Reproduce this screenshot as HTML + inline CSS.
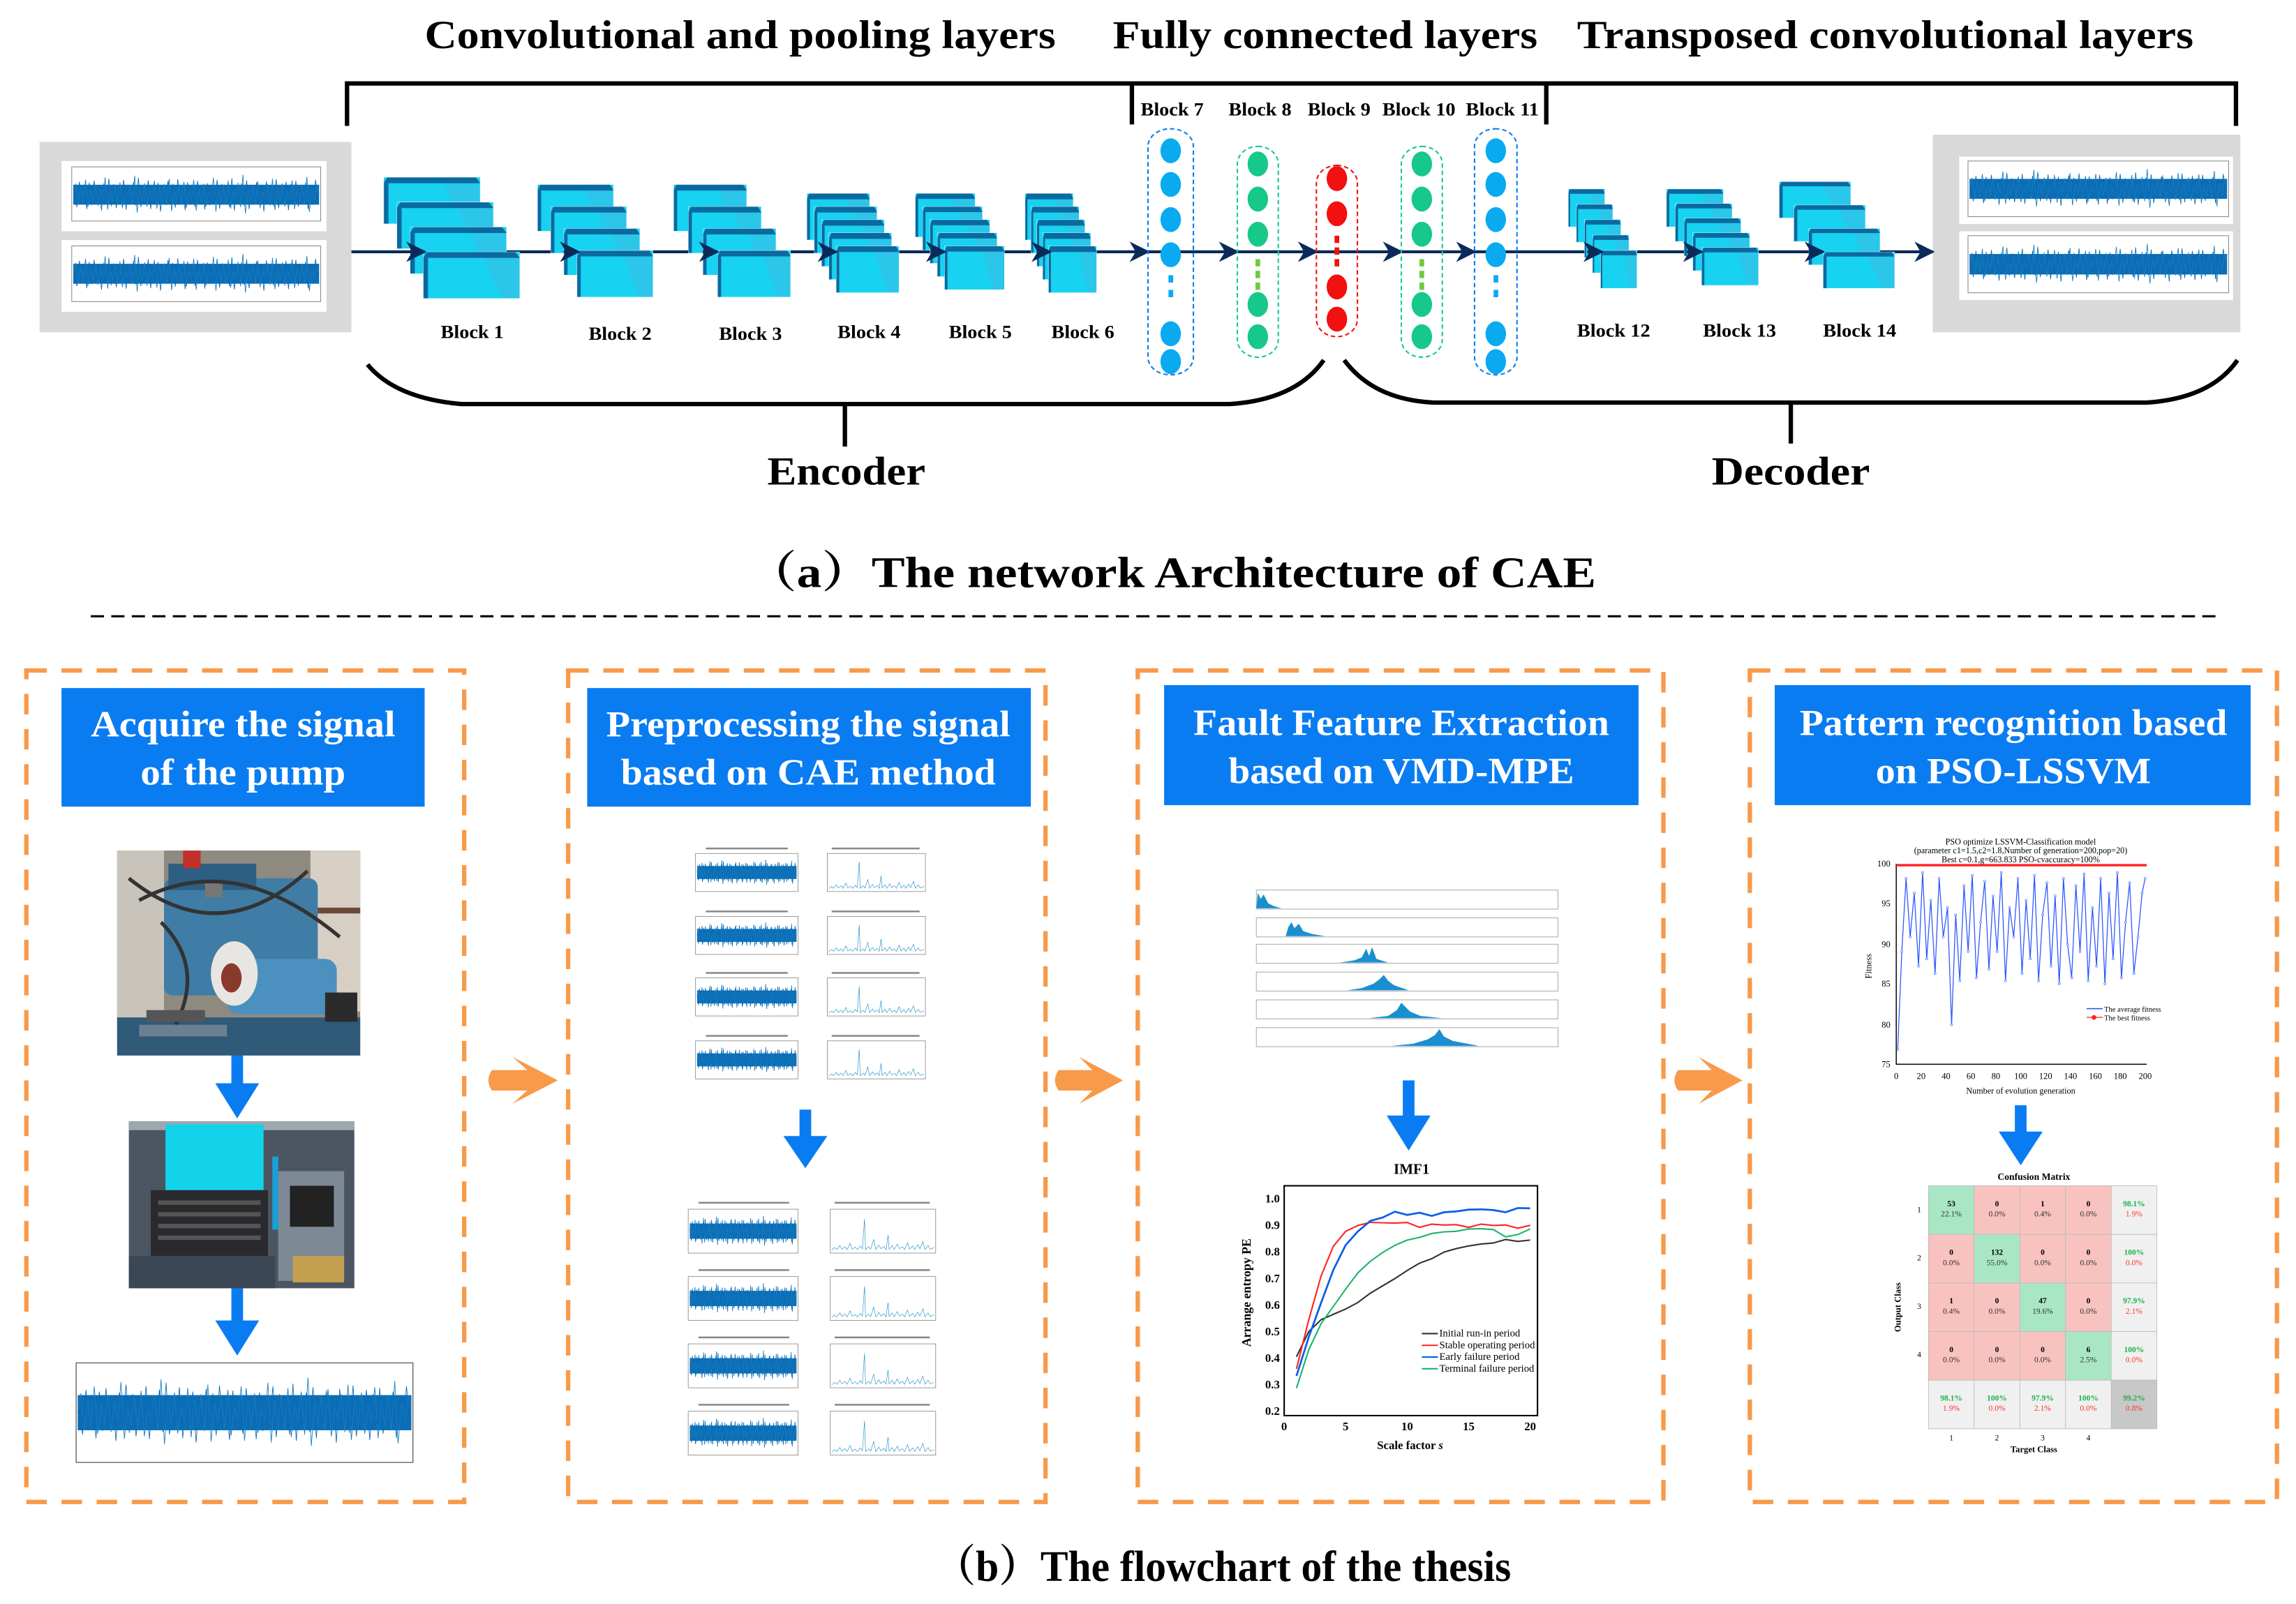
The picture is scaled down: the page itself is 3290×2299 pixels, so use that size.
<!DOCTYPE html>
<html><head><meta charset="utf-8">
<style>
html,body{margin:0;padding:0;background:#fff;}
svg{display:block;}
text{font-family:"Liberation Serif","Noto Serif CJK SC",serif;}
</style></head>
<body>
<svg xmlns="http://www.w3.org/2000/svg" xmlns:xlink="http://www.w3.org/1999/xlink" width="3290" height="2299" viewBox="0 0 1568 1095.7" preserveAspectRatio="none">
<defs>
<marker id="ah" viewBox="0 0 10 10" refX="9" refY="5" markerWidth="7" markerHeight="7" orient="auto"><path d="M0,0 L10,5 L0,10 L3,5 Z" fill="#0b2a5a"/></marker>
<marker id="dot" viewBox="0 0 10 10" refX="5" refY="5" markerWidth="2" markerHeight="2" markerUnits="userSpaceOnUse"><circle cx="5" cy="5" r="3.5" fill="#fff" stroke="#2a55ff" stroke-width="1.5"/></marker>
<symbol id="nz" viewBox="0 0 200 100" preserveAspectRatio="none">
<rect x="0" y="30" width="200" height="40" fill="#0b6db5"/>
<polyline vector-effect="non-scaling-stroke" stroke-width="0.9" fill="none" stroke="#1a7fc4" points="0,50 2,28 4,70 6,35 8,66 10,20 12,74 14,40 16,62 18,30 20,72 22,38 24,60 26,15 28,80 30,42 32,64 34,33 36,69 38,25 40,77 42,45 44,57 46,30 48,70 50,12 52,86 54,38 56,63 58,27 60,74 62,41 64,60 66,22 68,78 70,35 72,66 74,29 76,71 78,18 80,83 82,40 84,61 86,31 88,68 90,24 92,76 94,43 96,58 98,20 100,82 102,37 104,64 106,28 108,73 110,44 112,59 114,16 116,84 118,36 120,67 122,30 124,70 126,22 128,78 130,41 132,62 134,26 136,75 138,10 140,88 142,39 144,63 146,32 148,69 150,23 152,77 154,44 156,58 158,29 160,72 162,18 164,81 166,36 168,65 170,27 172,74 174,42 176,60 178,21 180,79 182,38 184,64 186,31 188,70 190,14 192,85 194,40 196,62 198,30 200,50"/>
<polyline vector-effect="non-scaling-stroke" stroke-width="0.9" fill="none" stroke="#0b6db5" points="1,45 3,75 5,24 7,68 9,30 11,79 13,26 15,71 17,22 19,66 21,33 23,82 25,27 27,64 29,18 31,73 33,29 35,77 37,35 39,62 41,20 43,80 45,31 47,69 49,24 51,72 53,16 55,75 57,34 59,65 61,21 63,79 65,30 67,68 69,26 71,84 73,32 75,63 77,23 79,70 81,28 83,76 85,19 87,67 89,35 91,81 93,25 95,70 97,33 99,74 101,22 103,66 105,30 107,80 109,27 111,71 113,36 115,64 117,20 119,78 121,29 123,69 125,33 127,75 129,17 131,82 133,31 135,66 137,27 139,72 141,21 143,79 145,34 147,63 149,25 151,70 153,30 155,84 157,23 159,67 161,32 163,73 165,19 167,77 169,35 171,64 173,24 175,81 177,29 179,68 181,22 183,74 185,33 187,66 189,26 191,79 193,31 195,70 197,20 199,60"/>
</symbol>
<symbol id="sp" viewBox="0 0 100 100" preserveAspectRatio="none">
<polyline vector-effect="non-scaling-stroke" stroke-width="0.6" fill="none" stroke="#1287c4" points="0,96 3,90 5,95 8,85 10,94 13,88 15,95 18,80 20,94 23,89 25,95 28,86 30,93 32,20 33,95 36,88 38,94 41,70 43,95 46,84 48,93 51,87 53,95 55,60 56,94 59,85 61,95 64,82 66,93 69,88 71,95 74,78 76,94 79,86 81,95 84,83 86,93 89,75 91,95 94,85 96,94 100,90"/>
</symbol>
<symbol id="ly" viewBox="0 0 100 100" preserveAspectRatio="none">
<rect x="0" y="0" width="100" height="100" fill="#17d2f0"/>
<path d="M62,12 L82,100 H100 V12Z" fill="#2bc6ea"/>
<path d="M0,13 L4,0 H95 L100,13Z" fill="#0a6aa0"/>
<rect x="0" y="13" width="5" height="87" fill="#0a6aa0"/>
<rect x="0" y="0" width="100" height="100" fill="none" stroke="#fff" stroke-width="0.8" vector-effect="non-scaling-stroke"/>
</symbol>
</defs>
<rect width="1568" height="1096" fill="#fff"/>

<g font-weight="bold" font-size="27" fill="#000">
<text x="290" y="33" textLength="431" lengthAdjust="spacingAndGlyphs">Convolutional and pooling layers</text>
<text x="760" y="33" textLength="290" lengthAdjust="spacingAndGlyphs">Fully connected layers</text>
<text x="1077" y="33" textLength="421" lengthAdjust="spacingAndGlyphs">Transposed convolutional layers</text>
</g>
<g stroke="#000" stroke-width="3" fill="none">
<path d="M237,86 V57 H1527 V86"/>
<path d="M773,57 V85 M1056,57 V85"/>
</g>
<g font-weight="bold" font-size="12.5" fill="#000">
<text x="779" y="79" textLength="43" lengthAdjust="spacingAndGlyphs">Block 7</text>
<text x="839" y="79" textLength="43" lengthAdjust="spacingAndGlyphs">Block 8</text>
<text x="893" y="79" textLength="43" lengthAdjust="spacingAndGlyphs">Block 9</text>
<text x="944" y="79" textLength="50" lengthAdjust="spacingAndGlyphs">Block 10</text>
<text x="1001" y="79" textLength="50" lengthAdjust="spacingAndGlyphs">Block 11</text>
</g>

<rect x="27" y="97" width="213" height="130" fill="#d9d9d9"/>
<rect x="42" y="110" width="181" height="48" fill="#fff"/>
<rect x="42" y="164" width="181" height="49" fill="#fff"/>
<rect x="1320" y="92" width="210" height="135" fill="#d9d9d9"/>
<rect x="1338" y="107" width="187" height="46" fill="#fff"/>
<rect x="1338" y="158" width="187" height="47" fill="#fff"/>
<g fill="none" stroke="#888" stroke-width="0.5">
<rect x="49" y="114" width="170" height="37"/><rect x="49" y="168" width="170" height="38"/>
<rect x="1344" y="110" width="178" height="38"/><rect x="1344" y="161" width="178" height="39"/>
</g>
<use href="#nz" xlink:href="#nz" x="50" y="116" width="168" height="34"/>
<use href="#nz" xlink:href="#nz" x="50" y="170" width="168" height="34"/>
<use href="#nz" xlink:href="#nz" x="1345" y="112" width="176" height="34"/>
<use href="#nz" xlink:href="#nz" x="1345" y="163" width="176" height="35"/>

<line x1="240" y1="172" x2="1318" y2="172" stroke="#0b2a5a" stroke-width="2"/>

<g>
<use href="#ly" xlink:href="#ly" x="262" y="121" width="66" height="32"/><use href="#ly" xlink:href="#ly" x="271" y="138" width="66" height="32"/><use href="#ly" xlink:href="#ly" x="280" y="155" width="66" height="32"/><use href="#ly" xlink:href="#ly" x="289" y="172" width="66" height="32"/>
<use href="#ly" xlink:href="#ly" x="367" y="126" width="52" height="32"/><use href="#ly" xlink:href="#ly" x="376" y="141" width="52" height="32"/><use href="#ly" xlink:href="#ly" x="385" y="156" width="52" height="32"/><use href="#ly" xlink:href="#ly" x="394" y="171" width="52" height="32"/>
<use href="#ly" xlink:href="#ly" x="460" y="126" width="50" height="32"/><use href="#ly" xlink:href="#ly" x="470" y="141" width="50" height="32"/><use href="#ly" xlink:href="#ly" x="480" y="156" width="50" height="32"/><use href="#ly" xlink:href="#ly" x="490" y="171" width="50" height="32"/>
<use href="#ly" xlink:href="#ly" x="551" y="132" width="43" height="32"/><use href="#ly" xlink:href="#ly" x="556" y="141" width="43" height="32"/><use href="#ly" xlink:href="#ly" x="561" y="150" width="43" height="32"/><use href="#ly" xlink:href="#ly" x="566" y="159" width="43" height="32"/><use href="#ly" xlink:href="#ly" x="571" y="168" width="43" height="32"/>
<use href="#ly" xlink:href="#ly" x="625" y="132" width="41" height="30"/><use href="#ly" xlink:href="#ly" x="630" y="141" width="41" height="30"/><use href="#ly" xlink:href="#ly" x="635" y="150" width="41" height="30"/><use href="#ly" xlink:href="#ly" x="640" y="159" width="41" height="30"/><use href="#ly" xlink:href="#ly" x="645" y="168" width="41" height="30"/>
<use href="#ly" xlink:href="#ly" x="700" y="132" width="33" height="32"/><use href="#ly" xlink:href="#ly" x="704" y="141" width="33" height="32"/><use href="#ly" xlink:href="#ly" x="708" y="150" width="33" height="32"/><use href="#ly" xlink:href="#ly" x="712" y="159" width="33" height="32"/><use href="#ly" xlink:href="#ly" x="716" y="168" width="33" height="32"/>
<use href="#ly" xlink:href="#ly" x="1071" y="129" width="25" height="26"/><use href="#ly" xlink:href="#ly" x="1076.5" y="139.5" width="25" height="26"/><use href="#ly" xlink:href="#ly" x="1082" y="150" width="25" height="26"/><use href="#ly" xlink:href="#ly" x="1087.5" y="160.5" width="25" height="26"/><use href="#ly" xlink:href="#ly" x="1093" y="171" width="25" height="26"/>
<use href="#ly" xlink:href="#ly" x="1138" y="129" width="39" height="26"/><use href="#ly" xlink:href="#ly" x="1144" y="139" width="39" height="26"/><use href="#ly" xlink:href="#ly" x="1150" y="149" width="39" height="26"/><use href="#ly" xlink:href="#ly" x="1156" y="159" width="39" height="26"/><use href="#ly" xlink:href="#ly" x="1162" y="169" width="39" height="26"/>
<use href="#ly" xlink:href="#ly" x="1215" y="124" width="49" height="25"/><use href="#ly" xlink:href="#ly" x="1225" y="140" width="49" height="25"/><use href="#ly" xlink:href="#ly" x="1235" y="156" width="49" height="25"/><use href="#ly" xlink:href="#ly" x="1245" y="172" width="49" height="25"/>
</g>

<g stroke="#0b2a5a" stroke-width="2" fill="none" marker-end="url(#ah)">
<line x1="280" y1="172" x2="290" y2="172"/>
<line x1="385" y1="172" x2="395" y2="172"/>
<line x1="480" y1="172" x2="490" y2="172"/>
<line x1="562" y1="172" x2="571" y2="172"/>
<line x1="636" y1="172" x2="645" y2="172"/>
<line x1="708" y1="172" x2="717" y2="172"/>
<line x1="775" y1="172" x2="784" y2="172"/>
<line x1="835" y1="172" x2="845" y2="172"/>
<line x1="889" y1="172" x2="899" y2="172"/>
<line x1="947" y1="172" x2="957" y2="172"/>
<line x1="997" y1="172" x2="1007" y2="172"/>
<line x1="1084" y1="172" x2="1094" y2="172"/>
<line x1="1152" y1="172" x2="1162" y2="172"/>
<line x1="1235" y1="172" x2="1245" y2="172"/>
<line x1="1310" y1="172" x2="1320" y2="172"/>
</g>

<g fill="none" stroke-width="1" stroke-dasharray="3,2">
<rect x="784" y="88" width="31" height="168" rx="15" ry="12" stroke="#0a7cf2"/>
<rect x="845" y="100" width="28" height="144" rx="14" ry="12" stroke="#16c8a0"/>
<rect x="899" y="113" width="28" height="117" rx="14" ry="12" stroke="#f21010"/>
<rect x="957" y="100" width="28" height="144" rx="14" ry="12" stroke="#16c8a0"/>
<rect x="1007" y="88" width="29" height="168" rx="14" ry="12" stroke="#0a7cf2"/>
</g>
<g fill="#09aaf0">
<ellipse cx="799.5" cy="103" rx="7" ry="8.5"/><ellipse cx="799.5" cy="126" rx="7" ry="8.5"/><ellipse cx="799.5" cy="150" rx="7" ry="8.5"/><ellipse cx="799.5" cy="174" rx="7" ry="8.5"/><ellipse cx="799.5" cy="228" rx="7" ry="8.5"/><ellipse cx="799.5" cy="247" rx="7" ry="8.5"/>
<rect x="798" y="188" width="3.2" height="5"/><rect x="798" y="198" width="3.2" height="5"/>
<ellipse cx="1021.5" cy="103" rx="7" ry="8.5"/><ellipse cx="1021.5" cy="126" rx="7" ry="8.5"/><ellipse cx="1021.5" cy="150" rx="7" ry="8.5"/><ellipse cx="1021.5" cy="174" rx="7" ry="8.5"/><ellipse cx="1021.5" cy="228" rx="7" ry="8.5"/><ellipse cx="1021.5" cy="247" rx="7" ry="8.5"/>
<rect x="1020" y="188" width="3.2" height="5"/><rect x="1020" y="198" width="3.2" height="5"/>
</g>
<g fill="#16c88a">
<ellipse cx="859" cy="112" rx="7" ry="8.5"/><ellipse cx="859" cy="136" rx="7" ry="8.5"/><ellipse cx="859" cy="160" rx="7" ry="8.5"/><ellipse cx="859" cy="208" rx="7" ry="8.5"/><ellipse cx="859" cy="230" rx="7" ry="8.5"/>
<ellipse cx="971" cy="112" rx="7" ry="8.5"/><ellipse cx="971" cy="136" rx="7" ry="8.5"/><ellipse cx="971" cy="160" rx="7" ry="8.5"/><ellipse cx="971" cy="208" rx="7" ry="8.5"/><ellipse cx="971" cy="230" rx="7" ry="8.5"/>
</g>
<g fill="#6ccc3c"><rect x="857.4" y="177" width="3.2" height="5"/><rect x="857.4" y="185" width="3.2" height="5"/><rect x="857.4" y="193" width="3.2" height="5"/>
<rect x="969.4" y="177" width="3.2" height="5"/><rect x="969.4" y="185" width="3.2" height="5"/><rect x="969.4" y="193" width="3.2" height="5"/></g>
<g fill="#f21010">
<ellipse cx="913" cy="122" rx="7" ry="8.5"/><ellipse cx="913" cy="146" rx="7" ry="8.5"/><ellipse cx="913" cy="196" rx="7" ry="8.5"/><ellipse cx="913" cy="218" rx="7" ry="8.5"/>
<rect x="911.4" y="161" width="3.2" height="5"/><rect x="911.4" y="169" width="3.2" height="5"/><rect x="911.4" y="177" width="3.2" height="5"/>
</g>

<g font-weight="bold" font-size="12.5" fill="#000">
<text x="301" y="231" textLength="43" lengthAdjust="spacingAndGlyphs">Block 1</text>
<text x="402" y="232" textLength="43" lengthAdjust="spacingAndGlyphs">Block 2</text>
<text x="491" y="232" textLength="43" lengthAdjust="spacingAndGlyphs">Block 3</text>
<text x="572" y="231" textLength="43" lengthAdjust="spacingAndGlyphs">Block 4</text>
<text x="648" y="231" textLength="43" lengthAdjust="spacingAndGlyphs">Block 5</text>
<text x="718" y="231" textLength="43" lengthAdjust="spacingAndGlyphs">Block 6</text>
<text x="1077" y="230" textLength="50" lengthAdjust="spacingAndGlyphs">Block 12</text>
<text x="1163" y="230" textLength="50" lengthAdjust="spacingAndGlyphs">Block 13</text>
<text x="1245" y="230" textLength="50" lengthAdjust="spacingAndGlyphs">Block 14</text>
</g>

<g stroke="#000" stroke-width="3" fill="none">
<path d="M251,249 Q270,272 315,276 H840 Q885,273 904,246"/>
<path d="M577,276 V305"/>
<path d="M918,246 Q938,273 979,275 H1466 Q1510,272 1528,246"/>
<path d="M1223,275 V303"/>
</g>
<g font-weight="bold" font-size="27" fill="#000" text-anchor="middle">
<text x="578" y="331" textLength="108" lengthAdjust="spacingAndGlyphs">Encoder</text>
<text x="1223" y="331" textLength="108" lengthAdjust="spacingAndGlyphs">Decoder</text>
</g>
<text x="510" y="401" font-weight="bold" font-size="30" textLength="580" lengthAdjust="spacingAndGlyphs">（a）The network Architecture of CAE</text>
<line x1="62" y1="421" x2="1518" y2="421" stroke="#000" stroke-width="1.5" stroke-dasharray="9,5"/>

<g stroke="#f89a4a" stroke-width="3" fill="none" stroke-dasharray="14,10">
<rect x="18" y="458" width="299" height="568"/>
<rect x="388" y="458" width="326" height="568"/>
<rect x="777" y="458" width="359" height="568"/>
<rect x="1195" y="458" width="360" height="568"/>
</g>
<g fill="#0a7cf2">
<rect x="42" y="470" width="248" height="81"/>
<rect x="401" y="470" width="303" height="81"/>
<rect x="795" y="468" width="324" height="82"/>
<rect x="1212" y="468" width="325" height="82"/>
</g>
<g font-weight="bold" font-size="25" fill="#fff" text-anchor="middle">
<text x="166" y="503" textLength="208" lengthAdjust="spacingAndGlyphs">Acquire the signal</text>
<text x="166" y="536" textLength="140" lengthAdjust="spacingAndGlyphs">of the pump</text>
<text x="552" y="503" textLength="276" lengthAdjust="spacingAndGlyphs">Preprocessing the signal</text>
<text x="552" y="536" textLength="256" lengthAdjust="spacingAndGlyphs">based on CAE method</text>
<text x="957" y="502" textLength="284" lengthAdjust="spacingAndGlyphs">Fault Feature Extraction</text>
<text x="957" y="535" textLength="236" lengthAdjust="spacingAndGlyphs">based on VMD-MPE</text>
<text x="1375" y="502" textLength="292" lengthAdjust="spacingAndGlyphs">Pattern recognition based</text>
<text x="1375" y="535" textLength="188" lengthAdjust="spacingAndGlyphs">on PSO-LSSVM</text>
</g>

<g fill="#f89a4a">
<path d="M336,731 H360 L350,722 L381,738 L350,754 L360,745 H336 Q331,738 336,731Z"/>
<path d="M723,731 H746 L737,722 L767,738 L737,754 L746,745 H723 Q718,738 723,731Z"/>
<path d="M1146,731 H1169 L1160,722 L1190,738 L1160,754 L1169,745 H1146 Q1141,738 1146,731Z"/>
</g>
<g fill="#0a7cf2">
<path d="M158,716 h8 v24 h11 l-15,24 l-15,-24 h11z"/>
<path d="M158,878 h8 v24 h11 l-15,24 l-15,-24 h11z"/>
<path d="M546,758 h8 v18 h11 l-15,22 l-15,-22 h11z"/>
<path d="M958,738 h8 v24 h11 l-15,24 l-15,-24 h11z"/>
<path d="M1376,755 h8 v18 h11 l-15,23 l-15,-23 h11z"/>
</g>

<g>
<rect x="80" y="581" width="166" height="140" fill="#8f8a80"/>
<rect x="80" y="581" width="32" height="130" fill="#c9c4bb"/>
<rect x="212" y="581" width="34" height="110" fill="#d8cfc4"/>
<rect x="205" y="620" width="41" height="4" fill="#6b4a3a"/>
<rect x="112" y="600" width="105" height="80" rx="6" fill="#3f7ca6"/>
<rect x="115" y="590" width="60" height="18" fill="#2d5f82"/>
<rect x="125" y="581" width="12" height="12" fill="#c2302a"/>
<rect x="140" y="603" width="12" height="10" fill="#777"/>
<rect x="155" y="655" width="75" height="38" rx="8" fill="#4b90bf"/>
<ellipse cx="160" cy="665" rx="16" ry="22" fill="#e8e6e2"/>
<ellipse cx="158" cy="668" rx="7" ry="10" fill="#8a3a2a"/>
<rect x="80" y="695" width="166" height="26" fill="#2f5a78"/>
<path d="M88,600 Q150,650 210,595 M95,615 Q160,580 232,640 M110,630 Q140,660 120,700" stroke="#333" stroke-width="2.5" fill="none"/>
<rect x="222" y="678" width="22" height="20" fill="#2b2b2b"/>
<rect x="95" y="700" width="60" height="8" fill="#6a7f90"/>
<rect x="100" y="690" width="40" height="8" fill="#555"/>
</g>
<g>
<rect x="88" y="766" width="154" height="114" fill="#4b5662"/>
<rect x="88" y="766" width="154" height="6" fill="#9ea7ae"/>
<rect x="113" y="768" width="67" height="45" fill="#13d3ea"/>
<rect x="103" y="813" width="80" height="45" fill="#2a2a2e"/>
<g fill="#555"><rect x="108" y="820" width="70" height="3"/><rect x="108" y="828" width="70" height="3"/><rect x="108" y="836" width="70" height="3"/><rect x="108" y="844" width="70" height="3"/></g>
<rect x="190" y="800" width="45" height="75" fill="#7d8a95"/>
<rect x="198" y="810" width="30" height="28" fill="#222"/>
<rect x="200" y="858" width="35" height="18" fill="#c5a050"/>
<rect x="88" y="858" width="100" height="22" fill="#3b4754"/>
<rect x="186" y="790" width="4" height="50" fill="#1aa0d8"/>
</g>
<rect x="52" y="931" width="230" height="68" fill="#fff" stroke="#555" stroke-width="0.6"/>
<use href="#nz" xlink:href="#nz" x="53" y="935" width="228" height="60"/>

<g fill="none" stroke="#888" stroke-width="0.4">
<rect x="475" y="583" width="70" height="26"/><rect x="565" y="583" width="67" height="26"/>
<rect x="475" y="626" width="70" height="26"/><rect x="565" y="626" width="67" height="26"/>
<rect x="475" y="668" width="70" height="26"/><rect x="565" y="668" width="67" height="26"/>
<rect x="475" y="711" width="70" height="26"/><rect x="565" y="711" width="67" height="26"/>
<rect x="470" y="826" width="75" height="30"/><rect x="567" y="826" width="72" height="30"/>
<rect x="470" y="872" width="75" height="30"/><rect x="567" y="872" width="72" height="30"/>
<rect x="470" y="918" width="75" height="30"/><rect x="567" y="918" width="72" height="30"/>
<rect x="470" y="964" width="75" height="30"/><rect x="567" y="964" width="72" height="30"/>
</g>
<use href="#nz" xlink:href="#nz" x="476" y="585" width="68" height="22"/>
<use href="#nz" xlink:href="#nz" x="476" y="628" width="68" height="22"/>
<use href="#nz" xlink:href="#nz" x="476" y="670" width="68" height="22"/>
<use href="#nz" xlink:href="#nz" x="476" y="713" width="68" height="22"/>
<use href="#nz" xlink:href="#nz" x="471" y="828" width="73" height="26"/>
<use href="#nz" xlink:href="#nz" x="471" y="874" width="73" height="26"/>
<use href="#nz" xlink:href="#nz" x="471" y="920" width="73" height="26"/>
<use href="#nz" xlink:href="#nz" x="471" y="966" width="73" height="26"/>
<use href="#sp" xlink:href="#sp" x="566" y="584" width="65" height="24"/>
<use href="#sp" xlink:href="#sp" x="566" y="627" width="65" height="24"/>
<use href="#sp" xlink:href="#sp" x="566" y="669" width="65" height="24"/>
<use href="#sp" xlink:href="#sp" x="566" y="712" width="65" height="24"/>
<use href="#sp" xlink:href="#sp" x="568" y="827" width="70" height="28"/>
<use href="#sp" xlink:href="#sp" x="568" y="873" width="70" height="28"/>
<use href="#sp" xlink:href="#sp" x="568" y="919" width="70" height="28"/>
<use href="#sp" xlink:href="#sp" x="568" y="965" width="70" height="28"/>
<g fill="#888">
<rect x="482" y="579" width="56" height="1.2"/><rect x="568" y="579" width="60" height="1.2"/>
<rect x="482" y="622" width="56" height="1.2"/><rect x="568" y="622" width="60" height="1.2"/>
<rect x="482" y="664" width="56" height="1.2"/><rect x="568" y="664" width="60" height="1.2"/>
<rect x="482" y="707" width="56" height="1.2"/><rect x="568" y="707" width="60" height="1.2"/>
<rect x="477" y="821" width="62" height="1.2"/><rect x="570" y="821" width="65" height="1.2"/>
<rect x="477" y="867" width="62" height="1.2"/><rect x="570" y="867" width="65" height="1.2"/>
<rect x="477" y="913" width="62" height="1.2"/><rect x="570" y="913" width="65" height="1.2"/>
<rect x="477" y="959" width="62" height="1.2"/><rect x="570" y="959" width="65" height="1.2"/>
</g>

<g fill="none" stroke="#aaa" stroke-width="0.5">
<rect x="858" y="608" width="206" height="13"/><rect x="858" y="627" width="206" height="13"/><rect x="858" y="645" width="206" height="13"/>
<rect x="858" y="664" width="206" height="13"/><rect x="858" y="683" width="206" height="13"/><rect x="858" y="702" width="206" height="13"/>
</g>
<g fill="#1a8fd0">
<path d="M858,620.5 L859,610 L861,614 L863,611 L866,617 L870,619 L875,620.5Z"/>
<path d="M878,639.5 L880,633 L882,630 L884,634 L887,631 L890,636 L896,638 L905,639.5Z"/>
<path d="M915,657.5 L925,656 L930,654 L933,648 L935,653 L937,647 L940,655 L948,657.5Z"/>
<path d="M920,676.5 L930,675 L938,672 L942,669 L945,666 L948,670 L952,673 L962,676.5Z"/>
<path d="M935,695.5 L948,694 L954,690 L957,685 L960,688 L963,691 L970,694 L985,695.5Z"/>
<path d="M950,714.5 L965,713 L975,710 L980,707 L983,703 L986,708 L992,711 L1010,714.5Z"/>
</g>

<text x="964" y="802" font-weight="bold" font-size="10" text-anchor="middle">IMF1</text>
<rect x="877" y="810" width="173" height="157" fill="none" stroke="#000" stroke-width="1"/>
<g font-size="8" font-weight="bold" text-anchor="end">
<text x="874" y="966.5">0.2</text><text x="874" y="948.4">0.3</text><text x="874" y="930.3">0.4</text><text x="874" y="912.1">0.5</text><text x="874" y="894">0.6</text><text x="874" y="875.9">0.7</text><text x="874" y="857.7">0.8</text><text x="874" y="839.6">0.9</text><text x="874" y="821.5">1.0</text>
</g>
<g font-size="8" font-weight="bold" text-anchor="middle">
<text x="877" y="977">0</text><text x="919" y="977">5</text><text x="961" y="977">10</text><text x="1003" y="977">15</text><text x="1045" y="977">20</text>
</g>
<g fill="none" stroke-width="1">
<polyline stroke="#333" points="885.4,926.8 893.8,909.6 902.2,901.5 910.6,897.8 919,894.2 927.4,889.7 935.8,883.4 944.2,878.4 952.6,873.4 961,867.9 969.4,862.9 977.8,859.8 986.2,855.3 994.6,852.9 1003,851.1 1011.4,849.8 1019.8,849.1 1028.2,846.7 1036.6,848 1045,847.1"/>
<polyline stroke="#f22" points="885.4,935 893.8,901.5 902.2,871.6 910.6,851.3 919,841.1 927.4,837.1 935.8,835 944.2,835.3 952.6,835.5 961,835.1 969.4,838.4 977.8,836.2 986.2,836.8 994.6,836.6 1003,838.4 1011.4,836.2 1019.8,837.1 1028.2,836.8 1036.6,839 1045,837"/>
<polyline stroke="#0a5ee8" stroke-width="1.3" points="885.4,939.9 893.8,913.3 902.2,890 910.6,867.4 919,850.5 927.4,841.1 935.8,834 944.2,831.7 952.6,827.7 961,829.9 969.4,828.4 977.8,830.6 986.2,828.1 994.6,827.5 1003,826.3 1011.4,826.1 1019.8,826.6 1028.2,828.1 1036.6,825.2 1045,825.4"/>
<polyline stroke="#1db36a" points="885.4,948.2 893.8,922 902.2,904.2 910.6,892.4 919,880.6 927.4,869.4 935.8,861.6 944.2,855.6 952.6,850.7 961,847.1 969.4,845.3 977.8,842.6 986.2,841.5 994.6,841.1 1003,839.5 1011.4,839.3 1019.8,839.9 1028.2,844.9 1036.6,843.3 1045,839.5"/>
</g>
<g font-size="7" fill="#000">
<text x="983" y="913">Initial run-in period</text>
<text x="983" y="921">Stable operating period</text>
<text x="983" y="929">Early failure period</text>
<text x="983" y="937">Terminal failure period</text>
</g>
<g stroke-width="1"><line x1="971" y1="911" x2="982" y2="911" stroke="#333"/><line x1="971" y1="919" x2="982" y2="919" stroke="#f22"/><line x1="971" y1="927" x2="982" y2="927" stroke="#0a5ee8"/><line x1="971" y1="935" x2="982" y2="935" stroke="#1db36a"/></g>
<text x="963" y="990" font-weight="bold" font-size="8" text-anchor="middle">Scale factor <tspan font-style="italic">s</tspan></text>
<text transform="translate(854,883) rotate(-90)" font-weight="bold" font-size="8.5" text-anchor="middle">Arrange entropy PE</text>

<g font-size="5.8" text-anchor="middle" fill="#000">
<text x="1380" y="577">PSO optimize LSSVM-Classification model</text>
<text x="1380" y="583">(parameter c1=1.5,c2=1.8,Number of generation=200,pop=20)</text>
<text x="1380" y="589">Best c=0.1,g=663.833 PSO-cvaccuracy=100%</text>
<text x="1380" y="747">Number of evolution generation</text>
</g>
<path d="M1295,590 V727 H1466" fill="none" stroke="#000" stroke-width="0.7"/>
<g font-size="6" text-anchor="end"><text x="1291" y="729">75</text><text x="1291" y="702">80</text><text x="1291" y="674">85</text><text x="1291" y="647">90</text><text x="1291" y="619">95</text><text x="1291" y="592">100</text></g>
<g font-size="6" text-anchor="middle"><text x="1295" y="737">0</text><text x="1312" y="737">20</text><text x="1329" y="737">40</text><text x="1346" y="737">60</text><text x="1363" y="737">80</text><text x="1380" y="737">100</text><text x="1397" y="737">120</text><text x="1414" y="737">140</text><text x="1431" y="737">160</text><text x="1448" y="737">180</text><text x="1465" y="737">200</text></g>
<polyline fill="none" stroke="#2a55ff" stroke-width="0.6" marker-start="url(#dot)" marker-mid="url(#dot)" marker-end="url(#dot)" points="1296,717 1298.8,650 1301.7,600 1304.5,640 1307.3,610 1310.2,660 1313,596 1315.8,655 1318.6,615 1321.5,665 1324.3,600 1327.1,640 1330,620 1332.8,700 1335.6,625 1338.4,670 1341.3,605 1344.1,650 1346.9,598 1349.8,668 1352.6,630 1355.4,602 1358.3,662 1361.1,612 1363.9,650 1366.7,596 1369.6,670 1372.4,620 1375.2,640 1378.1,600 1380.9,665 1383.7,615 1386.5,655 1389.4,598 1392.2,670 1395,625 1397.9,603 1400.7,660 1403.5,612 1406.3,672 1409.2,600 1412,645 1414.8,668 1417.7,605 1420.5,650 1423.3,597 1426.1,670 1429,620 1431.8,660 1434.6,600 1437.5,672 1440.3,610 1443.1,655 1446,596 1448.8,668 1451.6,630 1454.4,603 1457.3,665 1460.1,640 1462.9,610 1465,600"/>
<line x1="1295" y1="591" x2="1466" y2="591" stroke="#f22" stroke-width="1.6"/>
<text transform="translate(1278,660) rotate(-90)" font-size="6" text-anchor="middle">Fitness</text>
<g font-size="5" fill="#000"><text x="1437" y="691">The average fitness</text><text x="1437" y="697">The best fitness</text></g>
<line x1="1425" y1="689" x2="1436" y2="689" stroke="#3355ff" stroke-width="0.8"/>
<line x1="1425" y1="695" x2="1436" y2="695" stroke="#f55" stroke-width="0.8"/><circle cx="1430" cy="695" r="1.6" fill="#f22"/>

<text x="1389" y="806" font-weight="bold" font-size="6.5" text-anchor="middle">Confusion Matrix</text>
<g stroke="#bbb" stroke-width="0.4">
<rect x="1317" y="810" width="31.2" height="33.2" fill="#a9e7c4"/><rect x="1348.2" y="810" width="31.2" height="33.2" fill="#f8c3bf"/><rect x="1379.4" y="810" width="31.2" height="33.2" fill="#f8c3bf"/><rect x="1410.6" y="810" width="31.2" height="33.2" fill="#f8c3bf"/><rect x="1441.8" y="810" width="31.2" height="33.2" fill="#f0f0f0"/>
<rect x="1317" y="843.2" width="31.2" height="33.2" fill="#f8c3bf"/><rect x="1348.2" y="843.2" width="31.2" height="33.2" fill="#a9e7c4"/><rect x="1379.4" y="843.2" width="31.2" height="33.2" fill="#f8c3bf"/><rect x="1410.6" y="843.2" width="31.2" height="33.2" fill="#f8c3bf"/><rect x="1441.8" y="843.2" width="31.2" height="33.2" fill="#f0f0f0"/>
<rect x="1317" y="876.4" width="31.2" height="33.2" fill="#f8c3bf"/><rect x="1348.2" y="876.4" width="31.2" height="33.2" fill="#f8c3bf"/><rect x="1379.4" y="876.4" width="31.2" height="33.2" fill="#a9e7c4"/><rect x="1410.6" y="876.4" width="31.2" height="33.2" fill="#f8c3bf"/><rect x="1441.8" y="876.4" width="31.2" height="33.2" fill="#f0f0f0"/>
<rect x="1317" y="909.6" width="31.2" height="33.2" fill="#f8c3bf"/><rect x="1348.2" y="909.6" width="31.2" height="33.2" fill="#f8c3bf"/><rect x="1379.4" y="909.6" width="31.2" height="33.2" fill="#f8c3bf"/><rect x="1410.6" y="909.6" width="31.2" height="33.2" fill="#a9e7c4"/><rect x="1441.8" y="909.6" width="31.2" height="33.2" fill="#f0f0f0"/>
<rect x="1317" y="942.8" width="31.2" height="33.2" fill="#f0f0f0"/><rect x="1348.2" y="942.8" width="31.2" height="33.2" fill="#f0f0f0"/><rect x="1379.4" y="942.8" width="31.2" height="33.2" fill="#f0f0f0"/><rect x="1410.6" y="942.8" width="31.2" height="33.2" fill="#f0f0f0"/><rect x="1441.8" y="942.8" width="31.2" height="33.2" fill="#c8c8c8"/>
</g>
<g font-size="5.5" text-anchor="middle" font-weight="bold" fill="#000">
<text x="1332.6" y="824">53</text><text x="1363.8" y="824">0</text><text x="1395" y="824">1</text><text x="1426.2" y="824">0</text>
<text x="1332.6" y="857.2">0</text><text x="1363.8" y="857.2">132</text><text x="1395" y="857.2">0</text><text x="1426.2" y="857.2">0</text>
<text x="1332.6" y="890.4">1</text><text x="1363.8" y="890.4">0</text><text x="1395" y="890.4">47</text><text x="1426.2" y="890.4">0</text>
<text x="1332.6" y="923.6">0</text><text x="1363.8" y="923.6">0</text><text x="1395" y="923.6">0</text><text x="1426.2" y="923.6">6</text>
</g>
<g font-size="5.5" text-anchor="middle" fill="#333">
<text x="1332.6" y="831">22.1%</text><text x="1363.8" y="831">0.0%</text><text x="1395" y="831">0.4%</text><text x="1426.2" y="831">0.0%</text>
<text x="1332.6" y="864.2">0.0%</text><text x="1363.8" y="864.2">55.0%</text><text x="1395" y="864.2">0.0%</text><text x="1426.2" y="864.2">0.0%</text>
<text x="1332.6" y="897.4">0.4%</text><text x="1363.8" y="897.4">0.0%</text><text x="1395" y="897.4">19.6%</text><text x="1426.2" y="897.4">0.0%</text>
<text x="1332.6" y="930.6">0.0%</text><text x="1363.8" y="930.6">0.0%</text><text x="1395" y="930.6">0.0%</text><text x="1426.2" y="930.6">2.5%</text>
</g>
<g font-size="5.5" text-anchor="middle" font-weight="bold" fill="#1bb34a">
<text x="1457.4" y="824">98.1%</text><text x="1457.4" y="857.2">100%</text><text x="1457.4" y="890.4">97.9%</text><text x="1457.4" y="923.6">100%</text>
<text x="1332.6" y="956.8">98.1%</text><text x="1363.8" y="956.8">100%</text><text x="1395" y="956.8">97.9%</text><text x="1426.2" y="956.8">100%</text><text x="1457.4" y="956.8">99.2%</text>
</g>
<g font-size="5.5" text-anchor="middle" fill="#f33">
<text x="1457.4" y="831">1.9%</text><text x="1457.4" y="864.2">0.0%</text><text x="1457.4" y="897.4">2.1%</text><text x="1457.4" y="930.6">0.0%</text>
<text x="1332.6" y="963.8">1.9%</text><text x="1363.8" y="963.8">0.0%</text><text x="1395" y="963.8">2.1%</text><text x="1426.2" y="963.8">0.0%</text><text x="1457.4" y="963.8">0.8%</text>
</g>
<g font-size="5.5" text-anchor="end"><text x="1312" y="828">1</text><text x="1312" y="861">2</text><text x="1312" y="894">3</text><text x="1312" y="927">4</text></g>
<g font-size="5.5" text-anchor="middle"><text x="1332.6" y="984">1</text><text x="1363.8" y="984">2</text><text x="1395" y="984">3</text><text x="1426.2" y="984">4</text></g>
<text x="1389" y="992" font-weight="bold" font-size="6" text-anchor="middle">Target Class</text>
<text transform="translate(1298,893) rotate(-90)" font-weight="bold" font-size="6" text-anchor="middle">Output Class</text>

<text x="638" y="1080" font-weight="bold" font-size="30" textLength="394" lengthAdjust="spacingAndGlyphs">（b）The flowchart of the thesis</text>
</svg>
</body></html>
